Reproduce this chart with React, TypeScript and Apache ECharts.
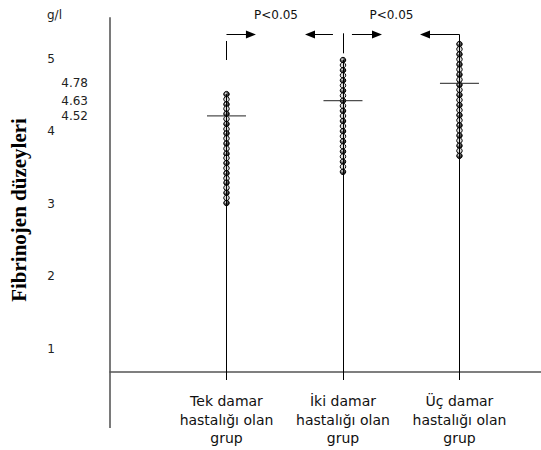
import React, { useEffect, useRef } from "react";
import * as echarts from "echarts";

// ---------- data ----------
const categories = [
  "Tek damar\nhastalığı olan\ngrup",
  "İki damar\nhastalığı olan\ngrup",
  "Üç damar\nhastalığı olan\ngrup",
];
const categoryPositions = [1, 2, 3];
const yTickValues = [1, 2, 3, 4, 5];

const group1Values = [
  4.51, 4.44, 4.37, 4.31, 4.24, 4.17, 4.1, 4.03, 3.97, 3.9, 3.83, 3.76,
  3.69, 3.63, 3.56, 3.49, 3.42, 3.35, 3.29, 3.22, 3.15, 3.08, 3.01,
];
const group2Values = [
  4.98, 4.91, 4.84, 4.77, 4.7, 4.63, 4.56, 4.49, 4.42, 4.35, 4.28, 4.21,
  4.14, 4.07, 4.0, 3.93, 3.86, 3.79, 3.72, 3.65, 3.58, 3.51, 3.44,
];
const group3Values = [
  5.2, 5.13, 5.06, 4.99, 4.92, 4.85, 4.78, 4.71, 4.64, 4.57, 4.5, 4.43,
  4.36, 4.29, 4.22, 4.15, 4.08, 4.01, 3.94, 3.87, 3.8, 3.73, 3.66,
];
const meanMarks = [4.21, 4.42, 4.66];
const meanLabels = ["4.52", "4.63", "4.78"];

const unitLabel = "g/l";
const yTitle = "Fibrinojen düzeyleri";
const significanceLabels = ["P<0.05", "P<0.05"];
const significanceX = [1.425, 2.416];

// comparison brackets (x in group units, y in g/l units)
const arrowLevel = 5.333;
const upperStubs = [
  { x: 1, from: 5.243, to: 4.981 },
  { x: 2, from: 5.349, to: 5.073 },
];
const arrows = [
  { from: 1.0, to: 1.21 },
  { from: 1.914, to: 1.717 },
  { from: 2.077, to: 2.292 },
  { from: 3.0, to: 2.704 },
];

// ---------- chart ----------
const Y_MIN = 0.68;
const Y_MAX = 5.56;
const FONT = "DejaVu Sans";

export default function App() {
  const ref = useRef<HTMLDivElement>(null);

  useEffect(() => {
    if (!ref.current) return;
    const chart = echarts.init(ref.current, undefined, { renderer: "svg" });

    const groups = [group1Values, group2Values, group3Values];
    const lineTops = [
      Math.max(...group1Values),
      Math.max(...group2Values),
      arrowLevel,
    ];

    const markLineData: any[] = [];
    categoryPositions.forEach((x, i) => {
      markLineData.push([
        { coord: [x, Y_MIN], symbol: "none" },
        { coord: [x, lineTops[i]], symbol: "none" },
      ]);
    });
    upperStubs.forEach((s) => {
      markLineData.push([
        { coord: [s.x, s.from], symbol: "none" },
        { coord: [s.x, s.to], symbol: "none" },
      ]);
    });
    arrows.forEach((a) => {
      markLineData.push([
        { coord: [a.from, arrowLevel], symbol: "none" },
        { coord: [a.to, arrowLevel], symbol: "triangle", symbolSize: [8, 10] },
      ]);
    });

    const ball = {
      type: "radial",
      x: 0.35,
      y: 0.35,
      r: 0.7,
      colorStops: [
        { offset: 0, color: "#ffffff" },
        { offset: 0.3, color: "#777777" },
        { offset: 1, color: "#000000" },
      ],
    };

    const dotSeries = groups.map((vals, gi) => ({
      type: "scatter",
      data: vals.map((v) => [categoryPositions[gi], v]),
      symbol: "circle",
      symbolSize: 5.5,
      itemStyle: {
        color: (p: any) => (p.dataIndex % 2 ? "#dddddd" : ball),
        borderColor: "#000",
        borderWidth: 1,
        opacity: 1,
      },
      z: 3,
      silent: true,
    }));

    chart.setOption({
      animation: false,
      grid: { left: 110, right: 0, top: 18, bottom: 78 },
      xAxis: {
        type: "value",
        min: 0,
        max: 3.7,
        axisLine: { show: true, onZero: false, lineStyle: { color: "#555", width: 1.5 } },
        axisTick: {
          show: true,
          customValues: categoryPositions,
          length: 8,
          lineStyle: { color: "#000", width: 1 },
        },
        axisLabel: {
          customValues: categoryPositions,
          formatter: (v: number) => categories[Math.round(v) - 1] ?? "",
          fontFamily: FONT,
          fontSize: 14,
          lineHeight: 18.5,
          color: "#111",
          margin: 20,
        },
        splitLine: { show: false },
      },
      yAxis: {
        type: "value",
        min: Y_MIN,
        max: Y_MAX,
        axisLine: { show: true, onZero: false, lineStyle: { color: "#7a7a7a", width: 2 } },
        axisTick: { show: false },
        splitLine: { show: false },
        axisLabel: {
          customValues: [...yTickValues, ...meanMarks],
          margin: 22,
          formatter: (v: number) => {
            const i = meanMarks.findIndex((m) => Math.abs(m - v) < 1e-6);
            return i >= 0 ? `{d|${meanLabels[i]}}` : `{i|${v}}`;
          },
          rich: {
            i: { fontFamily: FONT, fontSize: 12, color: "#222", padding: [0, 33, 0, 0] },
            d: { fontFamily: FONT, fontSize: 12, color: "#222" },
          },
        },
      },
      series: [
        {
          type: "scatter",
          data: categoryPositions.map((x) => [x, Y_MIN]),
          symbolSize: 0,
          silent: true,
          z: 1,
          markLine: {
            silent: true,
            symbol: ["none", "none"],
            label: { show: false },
            lineStyle: { color: "#000", width: 1, type: "solid" },
            emphasis: { disabled: true },
            data: markLineData,
          },
        },
        ...dotSeries,
        {
          type: "scatter",
          data: meanMarks.map((m, i) => [categoryPositions[i], m]),
          symbol: "rect",
          symbolSize: [39, 1.2],
          itemStyle: { color: "#222" },
          z: 4,
          silent: true,
        },
      ],
    });

    const origin = chart.convertToPixel({ gridIndex: 0 }, [0, Y_MIN]) as number[];
    const top = chart.convertToPixel({ gridIndex: 0 }, [0, Y_MAX]) as number[];
    const graphic: any[] = [
      {
        type: "line",
        shape: { x1: origin[0], y1: origin[1], x2: origin[0], y2: origin[1] + 56 },
        style: { stroke: "#7a7a7a", lineWidth: 2 },
        silent: true,
      },
      {
        type: "text",
        x: 47,
        y: top[1] - 3,
        style: {
          text: unitLabel,
          fontFamily: FONT,
          fontSize: 12,
          fill: "#222",
          verticalAlign: "middle",
        },
      },
      {
        type: "text",
        x: 19,
        y: 210,
        rotation: Math.PI / 2,
        style: {
          text: yTitle,
          fontFamily: "'Liberation Serif', serif",
          fontWeight: "bold",
          fontSize: 21,
          fill: "#000",
          align: "center",
          verticalAlign: "middle",
        },
      },
    ];
    significanceLabels.forEach((t, i) => {
      const p = chart.convertToPixel({ gridIndex: 0 }, [significanceX[i], Y_MAX]) as number[];
      graphic.push({
        type: "text",
        x: p[0],
        y: p[1] - 3,
        style: {
          text: t,
          fontFamily: FONT,
          fontSize: 12,
          fill: "#111",
          align: "center",
          verticalAlign: "middle",
        },
      });
    });
    chart.setOption({ graphic });

    return () => chart.dispose();
  }, []);

  return (
    <div
      ref={ref}
      style={{ position: "fixed", left: 0, top: 0, width: 541, height: 450, background: "#fff" }}
    />
  );
}
